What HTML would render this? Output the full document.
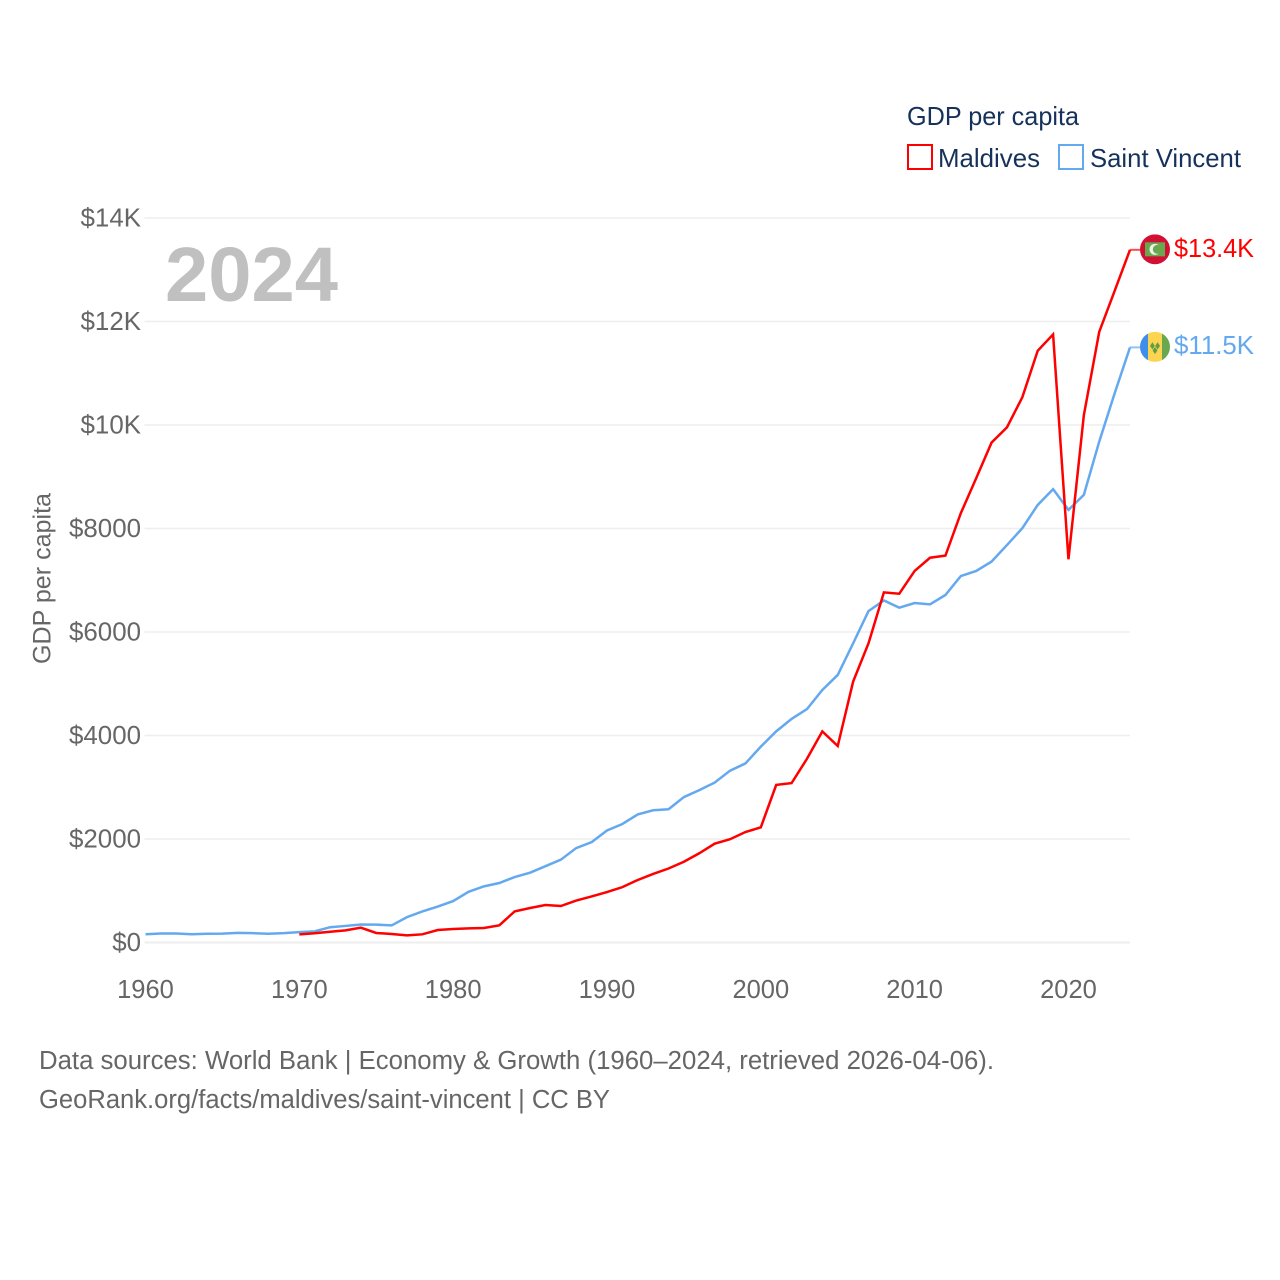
<!DOCTYPE html>
<html lang="en">
<head>
<meta charset="utf-8">
<title>GDP per capita: Maldives and Saint Vincent</title>
<style>
html,body{margin:0;padding:0;background:#fff;}
svg{display:block;}
text{font-family:"Liberation Sans",sans-serif;}
</style>
</head>
<body>
<svg id="chart" xmlns="http://www.w3.org/2000/svg" width="1280" height="1280" viewBox="0 0 1280 1280">
  <rect width="1280" height="1280" fill="#fff"/>
  <g id="grid"></g>
  <g id="ytick"></g>
  <g id="xtick"></g>
  <text transform="translate(50.5,664) rotate(-90)" font-size="25" fill="#666" textLength="171" lengthAdjust="spacingAndGlyphs">GDP per capita</text>
  <text x="165" y="301" font-size="77" font-weight="700" fill="#c0c0c0" textLength="173" lengthAdjust="spacingAndGlyphs">2024</text>
  <g id="series"></g>

  <g>
    <text x="907" y="125" font-size="26" fill="#16325c" textLength="172" lengthAdjust="spacingAndGlyphs">GDP per capita</text>
    <g>
      <rect x="908" y="145" width="24" height="24" fill="none" stroke="#ff0000" stroke-width="2"/>
      <text x="938" y="167" font-size="26" fill="#16325c" textLength="102" lengthAdjust="spacingAndGlyphs">Maldives</text>
    </g>
    <g>
      <rect x="1059" y="145" width="24" height="24" fill="none" stroke="#64a9ef" stroke-width="2"/>
      <text x="1090" y="167" font-size="26" fill="#16325c" textLength="151" lengthAdjust="spacingAndGlyphs">Saint Vincent</text>
    </g>
  </g>

  <defs>
    <clipPath id="clip-mv"><circle cx="0" cy="0" r="15"/></clipPath>
    <clipPath id="clip-vc"><circle cx="0" cy="0" r="15"/></clipPath>
  </defs>
  <g id="flag-mv">
    <g clip-path="url(#clip-mv)">
      <rect x="-15" y="-15" width="30" height="30" fill="#d21034"/>
      <rect x="-10" y="-7" width="20" height="14" fill="#6aa84f"/>
      <circle cx="0" cy="0" r="5.5" fill="#eef2ea"/>
      <circle cx="2.2" cy="0" r="4.4" fill="#6aa84f"/>
    </g>
  </g>
  <g id="flag-vc">
    <g clip-path="url(#clip-vc)">
      <rect x="-15" y="-15" width="8" height="30" fill="#3f8eea"/>
      <rect x="-7" y="-15" width="14" height="30" fill="#fcd450"/>
      <rect x="7" y="-15" width="8" height="30" fill="#6aa84f"/>
      <path d="M-5 -1 l2.4 -3.6 2.4 3.6 -2.4 3.6z M0.2 -1 l2.4 -3.6 2.4 3.6 -2.4 3.6z M-2.4 3.6 l2.4 -3.6 2.4 3.6 -2.4 3.6z" fill="#5f9e45"/>
    </g>
  </g>
  <text id="value-mv" x="1174" font-size="25.5" fill="#ff0000" textLength="80" lengthAdjust="spacingAndGlyphs"></text>
  <text id="value-vc" x="1174" font-size="25.5" fill="#64a9ef" textLength="80" lengthAdjust="spacingAndGlyphs"></text>

  <g>
    <text x="39" y="1069" font-size="25.5" fill="#666" textLength="955" lengthAdjust="spacingAndGlyphs">Data sources: World Bank | Economy &amp; Growth (1960–2024, retrieved 2026-04-06).</text>
    <text x="39" y="1108" font-size="25.5" fill="#666" textLength="571" lengthAdjust="spacingAndGlyphs">GeoRank.org/facts/maldives/saint-vincent | CC BY</text>
  </g>
</svg>
<script>
const years = [1960,1961,1962,1963,1964,1965,1966,1967,1968,1969,
  1970,1971,1972,1973,1974,1975,1976,1977,1978,1979,
  1980,1981,1982,1983,1984,1985,1986,1987,1988,1989,
  1990,1991,1992,1993,1994,1995,1996,1997,1998,1999,
  2000,2001,2002,2003,2004,2005,2006,2007,2008,2009,
  2010,2011,2012,2013,2014,2015,2016,2017,2018,2019,
  2020,2021,2022,2023,2024];
const maldives = [null,null,null,null,null,null,null,null,null,null,
  158,178,208,235,286,184,165,139,158,241,
  261,274,280,332,602,667,725,705,810,890,
  975,1070,1208,1325,1430,1560,1724,1910,1995,2135,
  2225,3045,3080,3550,4080,3797,5040,5780,6765,6740,
  7180,7435,7475,8295,8970,9660,9955,10535,11435,11750,
  7405,10190,11800,12590,13385];
const saintVincent = [160,175,175,160,170,172,185,180,170,180,
  200,215,295,320,348,345,330,490,600,695,
  800,980,1085,1150,1265,1350,1475,1600,1825,1940,
  2165,2290,2475,2555,2575,2810,2945,3090,3320,3460,
  3785,4080,4320,4510,4880,5170,5780,6405,6610,6470,
  6560,6535,6715,7080,7180,7360,7680,8005,8455,8760,
  8360,8650,9680,10610,11500];
const yTickValues = [0,2000,4000,6000,8000,10000,12000,14000];
const yTickLabels = ["$0","$2000","$4000","$6000","$8000","$10K","$12K","$14K"];
const xTickValues = [1960,1970,1980,1990,2000,2010,2020];
const xTickLabels = ["1960","1970","1980","1990","2000","2010","2020"];
const valueLabels = ["$13.4K","$11.5K"];

const NS = "http://www.w3.org/2000/svg";
const plotLeft = 145.5, plotRight = 1130, plotBottom = 942.5, plotTop = 218;
const xMin = 1960, xMax = 2024, yMin = 0, yMax = 14000;
function xScale(v){ return plotLeft + (v - xMin) / (xMax - xMin) * (plotRight - plotLeft); }
function yScale(v){ return plotBottom - (v - yMin) / (yMax - yMin) * (plotBottom - plotTop); }

const gridG = document.getElementById("grid");
const yG = document.getElementById("ytick");
const xG = document.getElementById("xtick");
const seriesG = document.getElementById("series");

yTickValues.forEach(function(v, i){
  const line = document.createElementNS(NS, "line");
  
  
  line.setAttribute("x1", plotLeft - 1);
  line.setAttribute("x2", plotRight);
  line.setAttribute("y1", yScale(v));
  line.setAttribute("y2", yScale(v));
  line.setAttribute("stroke", "#eeeeee");
  line.setAttribute("stroke-width", v === 0 ? 2 : 1.6);
  gridG.appendChild(line);

  const t = document.createElementNS(NS, "text");
  
  
  t.setAttribute("x", 141);
  t.setAttribute("y", yScale(v) + 8.5);
  t.setAttribute("text-anchor", "end");
  t.setAttribute("font-size", "25.9");
  t.setAttribute("fill", "#666");
  t.textContent = yTickLabels[i];
  yG.appendChild(t);
});

xTickValues.forEach(function(v, i){
  const t = document.createElementNS(NS, "text");
  
  
  t.setAttribute("x", xScale(v));
  t.setAttribute("y", 998);
  t.setAttribute("text-anchor", "middle");
  t.setAttribute("font-size", "25.5");
  t.setAttribute("fill", "#666");
  t.textContent = xTickLabels[i];
  xG.appendChild(t);
});

function pathFor(values){
  let d = "";
  values.forEach(function(v, i){
    if (v === null) return;
    d += (d ? "L" : "M") + xScale(years[i]).toFixed(2) + " " + yScale(v).toFixed(2);
  });
  return d;
}
function lastValue(values){ return values[values.length - 1]; }

const saintLine = document.createElementNS(NS, "path");


saintLine.setAttribute("d", pathFor(saintVincent));
saintLine.setAttribute("fill", "none");
saintLine.setAttribute("stroke", "#64a9ef");
saintLine.setAttribute("stroke-width", "2.5");
saintLine.setAttribute("stroke-linejoin", "miter");
seriesG.appendChild(saintLine);

const maldivesLine = document.createElementNS(NS, "path");


maldivesLine.setAttribute("d", pathFor(maldives));
maldivesLine.setAttribute("fill", "none");
maldivesLine.setAttribute("stroke", "#ff0000");
maldivesLine.setAttribute("stroke-width", "2.5");
maldivesLine.setAttribute("stroke-linejoin", "miter");
seriesG.appendChild(maldivesLine);

const maldivesConnector = document.createElementNS(NS, "line");


maldivesConnector.setAttribute("x1", plotRight);
maldivesConnector.setAttribute("x2", plotRight + 10);
maldivesConnector.setAttribute("y1", yScale(lastValue(maldives)));
maldivesConnector.setAttribute("y2", yScale(lastValue(maldives)));
maldivesConnector.setAttribute("stroke", "#ff0000");
maldivesConnector.setAttribute("stroke-opacity", "0.7");
maldivesConnector.setAttribute("stroke-width", "2");
seriesG.appendChild(maldivesConnector);

const saintConnector = document.createElementNS(NS, "line");


saintConnector.setAttribute("x1", plotRight);
saintConnector.setAttribute("x2", plotRight + 10);
saintConnector.setAttribute("y1", yScale(lastValue(saintVincent)));
saintConnector.setAttribute("y2", yScale(lastValue(saintVincent)));
saintConnector.setAttribute("stroke", "#64a9ef");
saintConnector.setAttribute("stroke-opacity", "0.7");
saintConnector.setAttribute("stroke-width", "2");
seriesG.appendChild(saintConnector);

const mvY = yScale(lastValue(maldives));
const vcY = yScale(lastValue(saintVincent));
document.getElementById("flag-mv").setAttribute("transform", "translate(1155," + (mvY - 0.5) + ")");
document.getElementById("flag-vc").setAttribute("transform", "translate(1155," + (vcY - 0.5) + ")");
const mvText = document.getElementById("value-mv");
mvText.setAttribute("y", mvY + 7);
mvText.textContent = valueLabels[0];
const vcText = document.getElementById("value-vc");
vcText.setAttribute("y", vcY + 6.5);
vcText.textContent = valueLabels[1];
</script>
</body>
</html>
